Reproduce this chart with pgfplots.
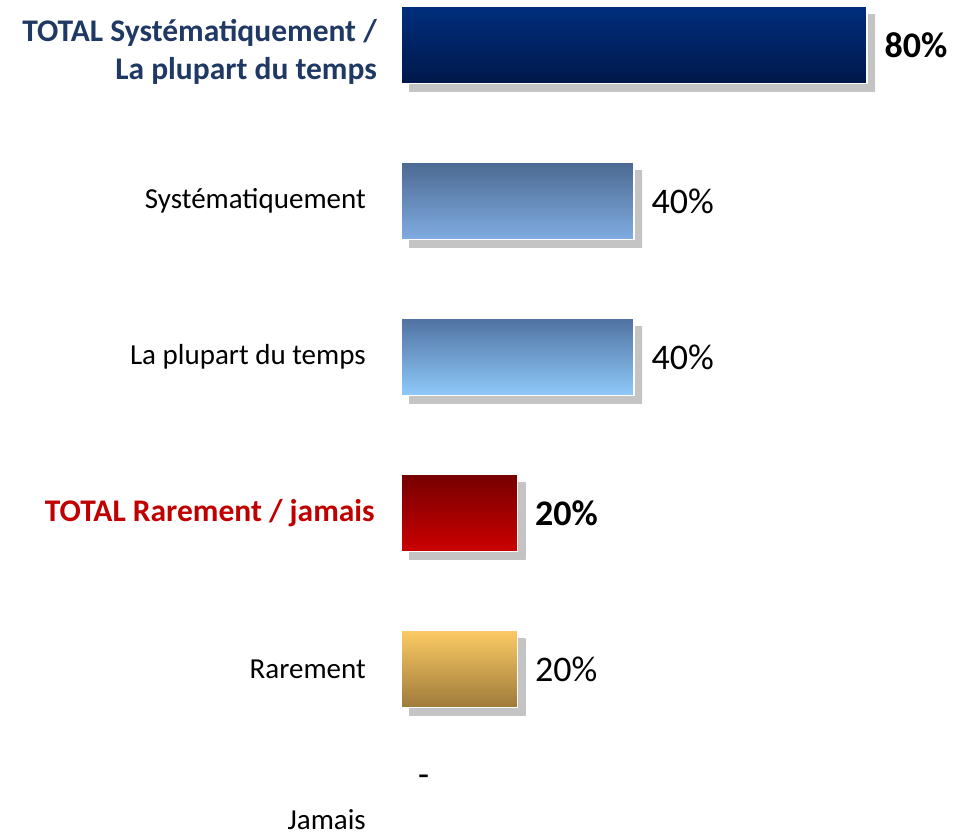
\documentclass[border=0pt]{standalone}
\usepackage{pgfplots}
\pgfplotsset{compat=1.18}
\usepackage{fontspec}
\setmainfont{Carlito}
\definecolor{navytxt}{RGB}{31,56,100}
\definecolor{redtxt}{RGB}{192,0,0}
\definecolor{shad}{RGB}{196,196,196}
\definecolor{b1top}{RGB}{0,46,125}
\definecolor{b1bot}{RGB}{0,24,74}
\definecolor{b2top}{RGB}{76,106,146}
\definecolor{b2bot}{RGB}{128,172,226}
\definecolor{b3top}{RGB}{80,114,162}
\definecolor{b3bot}{RGB}{142,202,250}
\definecolor{b4top}{RGB}{118,0,0}
\definecolor{b4bot}{RGB}{204,0,0}
\definecolor{b5top}{RGB}{252,203,100}
\definecolor{b5bot}{RGB}{158,122,58}
\begin{document}
\begin{tikzpicture}
\path[use as bounding box] (0,0) rectangle (970bp,836bp);
\begin{axis}[
  at={(401bp,-67bp)}, anchor=south west, scale only axis,
  width=582.5bp, height=936bp,
  xmin=0, xmax=100, ymin=-0.5, ymax=5.5, y dir=reverse,
  xbar, bar width=77bp, bar shift=0pt, clip=false,
  hide x axis, axis line style={draw=none}, major tick length=0pt,
  /pgf/number format/assume math mode=true,
  ytick={0.05,1,2,3,4,4.965},
  yticklabels={
    {\fontsize{31.5bp}{38bp}\selectfont\bfseries\color{navytxt}\begin{tabular}[c]{@{}r@{}}TOTAL Systématiquement /\\La plupart du temps\end{tabular}},
    {Systématiquement\hspace*{11bp}},
    {La plupart du temps\hspace*{11bp}},
    {\fontsize{31.5bp}{40bp}\selectfont\bfseries\color{redtxt}TOTAL Rarement / jamais\hspace*{2bp}},
    {Rarement\hspace*{11bp}},
    {Jamais\hspace*{11bp}}},
  yticklabel style={font=\fontsize{29bp}{40bp}\selectfont, anchor=east, inner sep=0pt, xshift=-24bp},
  point meta=x,
  every node near coord/.append style={font=\fontsize{36bp}{40bp}\selectfont, inner sep=0pt, anchor=west, xshift=17bp, text=black},
  mybar/.style={draw=white, line width=1.2bp,
     preaction={top color=shad, bottom color=shad, draw=none, transform canvas={xshift=8bp, yshift=-8bp}}},
]
\addplot[mybar, top color=b1top, bottom color=b1bot, nodes near coords={\bfseries\pgfmathprintnumber{\pgfplotspointmeta}\%}] coordinates {(80,0)};
\addplot[mybar, top color=b2top, bottom color=b2bot, nodes near coords={\pgfmathprintnumber{\pgfplotspointmeta}\%}] coordinates {(40,1)};
\addplot[mybar, top color=b3top, bottom color=b3bot, nodes near coords={\pgfmathprintnumber{\pgfplotspointmeta}\%}] coordinates {(40,2)};
\addplot[mybar, top color=b4top, bottom color=b4bot, nodes near coords={\bfseries\pgfmathprintnumber{\pgfplotspointmeta}\%}] coordinates {(20,3)};
\addplot[mybar, top color=b5top, bottom color=b5bot, nodes near coords={\pgfmathprintnumber{\pgfplotspointmeta}\%}] coordinates {(20,4)};
\addplot[draw=none, fill=none, nodes near coords={-}, every node near coord/.append style={yshift=44bp}] coordinates {(0,5)};
\end{axis}
\end{tikzpicture}
\end{document}
